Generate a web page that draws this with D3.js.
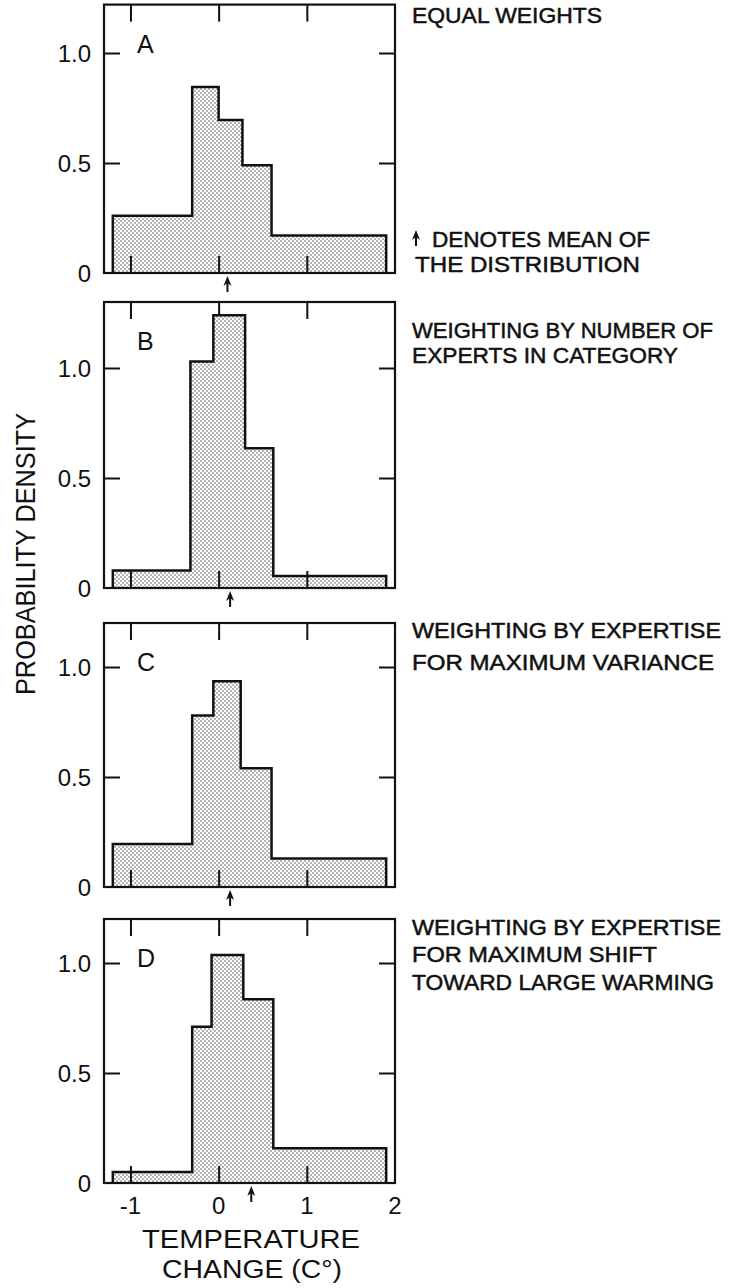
<!DOCTYPE html>
<html>
<head>
<meta charset="utf-8">
<script src="https://cdn.jsdelivr.net/npm/d3@7"></script>
<style>
  body { margin: 0; background: #fff; }
  text { font-family: "Liberation Sans", Arial, sans-serif; fill: #111; }
</style>
</head>
<body>
<div id="chart"></div>
<script>
// data
const panels = ["A", "B", "C", "D"];
const edgesA = [-1.2, -0.3, 0.0, 0.27, 0.6, 1.9];
const edgesB = [-1.2, -0.32, -0.06, 0.3, 0.62, 1.9];
const edgesC = [-1.2, -0.3, -0.06, 0.25, 0.6, 1.9];
const edgesD = [-1.2, -0.3, -0.08, 0.28, 0.62, 1.9];
const densA = [0.26, 0.845, 0.695, 0.49, 0.17];
const densB = [0.08, 1.03, 1.24, 0.635, 0.055];
const densC = [0.195, 0.78, 0.935, 0.54, 0.13];
const densD = [0.05, 0.71, 1.036, 0.835, 0.158];
const means = [0.1, 0.13, 0.13, 0.37];
const yTicks = [0, 0.5, 1.0];
const yTickLabels = ["0", "0.5", "1.0"];
const xTicks = [-1, 0, 1, 2];
const xTickLabels = ["-1", "0", "1", "2"];
const notes = [
  ["EQUAL WEIGHTS"],
  ["WEIGHTING BY NUMBER OF", "EXPERTS IN CATEGORY"],
  ["WEIGHTING BY EXPERTISE", "FOR MAXIMUM VARIANCE"],
  ["WEIGHTING BY EXPERTISE", "FOR MAXIMUM SHIFT", "TOWARD LARGE WARMING"]
];
const edges = [edgesA, edgesB, edgesC, edgesD];
const dens = [densA, densB, densC, densD];

// layout
const W = 729, H = 1288;
const left = 104, right = 395;
const bottoms = [273, 588, 887, 1183];
const yMax = [1.22, 1.3, 1.2, 1.2];
const unit = 220; // px per 1.0 density
const noteX = 412;
const noteY = [[23], [338, 363], [638, 670], [935, 962, 990]];
const noteW = [[190], [301, 266], [309, 302], [309, 245, 302]];

const svg = d3.select("#chart").append("svg")
    .attr("width", W).attr("height", H);

// stipple pattern
const pat = svg.append("defs").append("pattern")
    .attr("id", "dots").attr("patternUnits", "userSpaceOnUse")
    .attr("width", 4).attr("height", 4);
pat.append("rect").attr("width", 4).attr("height", 4).attr("fill", "#fff");
pat.append("circle").attr("cx", 1).attr("cy", 1).attr("r", 0.75).attr("fill", "#444");
pat.append("circle").attr("cx", 3).attr("cy", 3).attr("r", 0.75).attr("fill", "#444");

const x = d3.scaleLinear().domain([-1.3, 2]).range([left, right]);

function arrow(g, cx, tipY) {
    g.append("line")
        .attr("x1", cx).attr("x2", cx)
        .attr("y1", tipY + 6).attr("y2", tipY + 16)
        .attr("stroke", "#111").attr("stroke-width", 2);
    g.append("path")
        .attr("d", `M${cx},${tipY} L${cx - 4},${tipY + 10} L${cx},${tipY + 7} L${cx + 4},${tipY + 10} Z`)
        .attr("fill", "#111");
}

panels.forEach(function (p, i) {
    const bottom = bottoms[i];
    const y = d3.scaleLinear().domain([0, yMax[i]]).range([bottom, bottom - yMax[i] * unit]);
    const top = y(yMax[i]);
    const g = svg.append("g");

    // top ticks (hidden behind bars)
    g.append("g")
        .attr("transform", `translate(0, ${top})`)
        .call(d3.axisBottom(x).tickValues([-1, 0, 1]).tickSize(17).tickFormat(""))
        .call(a => a.select(".domain").remove())
        .selectAll("line").attr("stroke", "#111").attr("stroke-width", 2);

    // histogram
    const e = edges[i], d = dens[i];
    const pts = [[e[0], 0]];
    d.forEach(function (v, k) { pts.push([e[k], v]); pts.push([e[k + 1], v]); });
    pts.push([e[e.length - 1], 0]);
    const line = d3.line().x(q => x(q[0])).y(q => y(q[1]));
    g.append("path").attr("d", line(pts) + "Z")
        .attr("fill", "url(#dots)").attr("stroke", "none");
    g.append("path").attr("d", line(pts))
        .attr("fill", "none").attr("stroke", "#111")
        .attr("stroke-width", 2.5).attr("stroke-linejoin", "miter");

    // bottom ticks inside
    g.append("g")
        .attr("transform", `translate(0, ${bottom})`)
        .call(d3.axisTop(x).tickValues([-1, 0, 1]).tickSize(17).tickFormat(""))
        .call(a => a.select(".domain").remove())
        .selectAll("line").attr("stroke", "#111").attr("stroke-width", 2);

    // left & right y ticks inside
    g.append("g")
        .attr("transform", `translate(${left}, 0)`)
        .call(d3.axisRight(y).tickValues([0.5, 1.0]).tickSize(16).tickFormat(""))
        .call(a => a.select(".domain").remove())
        .selectAll("line").attr("stroke", "#111").attr("stroke-width", 2);
    g.append("g")
        .attr("transform", `translate(${right}, 0)`)
        .call(d3.axisLeft(y).tickValues([0.5, 1.0]).tickSize(16).tickFormat(""))
        .call(a => a.select(".domain").remove())
        .selectAll("line").attr("stroke", "#111").attr("stroke-width", 2);

    // frame
    g.append("rect")
        .attr("x", left).attr("y", top)
        .attr("width", right - left).attr("height", bottom - top)
        .attr("fill", "none").attr("stroke", "#111").attr("stroke-width", 2.2);

    // y tick labels
    g.selectAll(".yl").data(yTicks).join("text")
        .attr("x", 91).attr("y", v => y(v) + 9)
        .attr("text-anchor", "end")
        .style("font-size", "24px")
        .text((v, k) => yTickLabels[k]);

    // panel letter
    g.append("text")
        .attr("x", 137).attr("y", top + 48)
        .style("font-size", "25px")
        .text(p);

    // mean arrow
    arrow(g, x(means[i]), bottom + 3);

    // notes on the right
    notes[i].forEach(function (t, k) {
        svg.append("text")
            .attr("x", noteX).attr("y", noteY[i][k])
            .attr("textLength", noteW[i][k]).attr("lengthAdjust", "spacingAndGlyphs")
            .style("font-size", "22px")
            .style("stroke", "#111").style("stroke-width", 0.5)
            .text(t);
    });
});

// legend note for the arrow
arrow(svg, 416, 230);
svg.append("text")
    .attr("x", 432).attr("y", 247)
    .attr("textLength", 218).attr("lengthAdjust", "spacingAndGlyphs")
    .style("font-size", "22px").style("stroke", "#111").style("stroke-width", 0.5)
    .text("DENOTES MEAN OF");
svg.append("text")
    .attr("x", 415).attr("y", 272)
    .attr("textLength", 225).attr("lengthAdjust", "spacingAndGlyphs")
    .style("font-size", "22px").style("stroke", "#111").style("stroke-width", 0.5)
    .text("THE DISTRIBUTION");

// x tick labels under last panel
svg.selectAll(".xl").data(xTicks).join("text")
    .attr("x", v => x(v)).attr("y", 1214)
    .attr("text-anchor", "middle")
    .style("font-size", "24px")
    .text((v, k) => xTickLabels[k]);

// axis titles
svg.append("text")
    .attr("x", 251).attr("y", 1248)
    .attr("text-anchor", "middle")
    .attr("textLength", 218).attr("lengthAdjust", "spacingAndGlyphs")
    .style("font-size", "25px")
    .text("TEMPERATURE");
svg.append("text")
    .attr("x", 252).attr("y", 1278)
    .attr("text-anchor", "middle")
    .attr("textLength", 180).attr("lengthAdjust", "spacingAndGlyphs")
    .style("font-size", "25px")
    .text("CHANGE (C°)");
svg.append("text")
    .attr("transform", "translate(35, 554) rotate(-90)")
    .attr("text-anchor", "middle")
    .attr("textLength", 282).attr("lengthAdjust", "spacingAndGlyphs")
    .style("font-size", "27px")
    .text("PROBABILITY DENSITY");
</script>
</body>
</html>
